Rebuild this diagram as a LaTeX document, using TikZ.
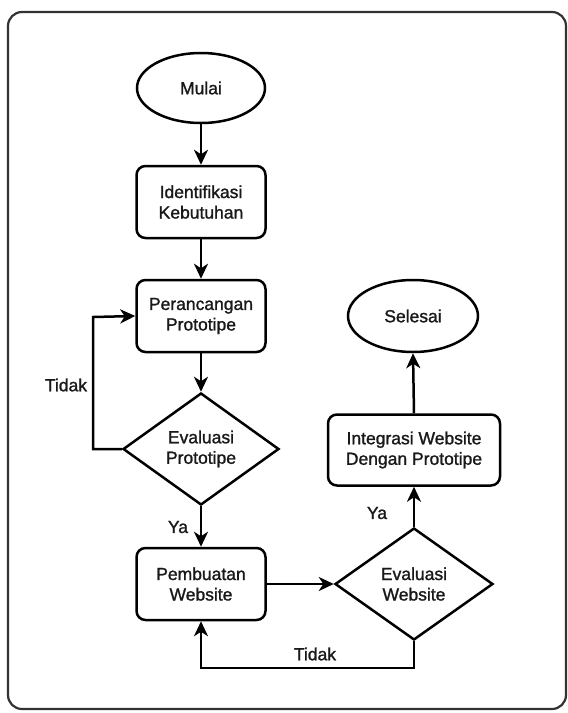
\documentclass[tikz,border=0pt]{standalone}
\usepackage{fontspec}
\setmainfont{Liberation Sans}[BoldFont=Liberation Sans, BoldFeatures={FakeBold=1.3}]
\usetikzlibrary{shapes.geometric,arrows.meta}
\begin{document}
\begin{tikzpicture}[x=1pt,y=-1pt,
  every node/.style={font=\fontsize{17.5}{20.5}\selectfont\bfseries, text=black!90},
  base/.style={draw=black, line width=2.5pt, align=center, inner sep=0pt},
  term/.style={base, ellipse, minimum width=128pt, minimum height=70pt},
  proc/.style={base, rectangle, rounded corners=9pt, minimum width=129pt, minimum height=72pt},
  dec/.style={base, diamond, minimum width=156pt, minimum height=112pt},
  conn/.style={draw=black, line width=2.5pt, -{Stealth[length=15pt,width=14pt,inset=4.5pt]}},
  lbl/.style={inner sep=0pt}
]
\useasboundingbox (0,0) rectangle (568,713);
\draw[line width=2.2pt, draw=black!80, rounded corners=14pt] (8,12) rectangle (566,709);

\node[term] (mulai) at (201,88) {Mulai};
\node[proc] (ident) at (201,202) {Identifikasi\\Kebutuhan};
\node[proc] (peran) at (201,316) {Perancangan\\Prototipe};
\node[dec] (evp) at (201,449) {Evaluasi\\Prototipe};
\node[proc] (pemb) at (201,584) {Pembuatan\\Website};
\node[dec, minimum width=158pt] (evw) at (414,584) {Evaluasi\\Website};
\node[proc, minimum width=172pt, minimum height=71pt] (integ) at (414,450) {Integrasi Website\\Dengan Prototipe};
\node[term, minimum width=130pt, minimum height=72pt] (selesai) at (413,316) {Selesai};

\coordinate (l1) at (93,449);
\coordinate (l2) at (93,317);
\coordinate (b1) at (414,668);
\coordinate (b2) at (201,668);

\draw[conn] (mulai) -- (ident);
\draw[conn] (ident) -- (peran);
\draw[conn] (peran) -- (evp);
\draw[conn] (evp) -- (pemb);
\draw[conn] (evp.west) -- (l1) -- (l2) -- (peran.west);
\draw[conn] (pemb.east) -- (evw.west);
\draw[conn] (evw.south) -- (b1) -- (b2) -- (pemb.south);
\draw[conn] (evw.north) -- (integ.south);
\draw[conn] (integ.north) -- (selesai.south);

\node[lbl] (t1) at (66,385) {Tidak};
\node[lbl] (y1) at (178,527) {Ya};
\node[lbl] (t2) at (315,654) {Tidak};
\node[lbl] (y2) at (377,513) {Ya};
\end{tikzpicture}
\end{document}
